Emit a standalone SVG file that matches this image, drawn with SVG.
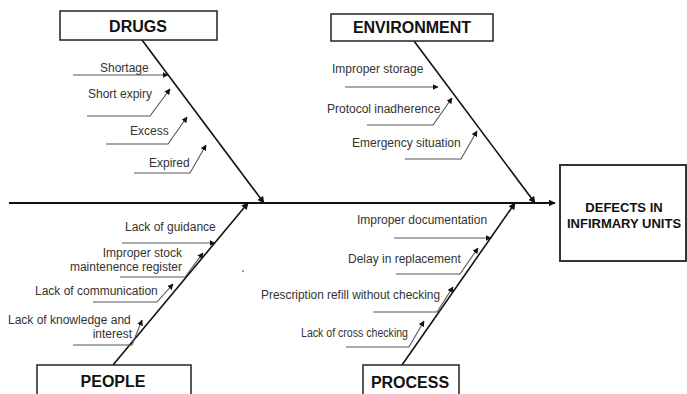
<svg xmlns="http://www.w3.org/2000/svg" width="687" height="394" viewBox="0 0 687 394">
  <defs>
    <marker id="ah" viewBox="0 0 10 10" refX="9" refY="5" markerWidth="7" markerHeight="7" markerUnits="userSpaceOnUse" orient="auto">
      <path d="M0,0 L10,5 L0,10 Z" fill="#111"/>
    </marker>
    <marker id="ahs" viewBox="0 0 10 10" refX="9" refY="5" markerWidth="6" markerHeight="6" markerUnits="userSpaceOnUse" orient="auto">
      <path d="M0,0 L10,5 L0,10 Z" fill="#111"/>
    </marker>
  </defs>
  <style>
    .box { fill: #fff; stroke: #222; stroke-width: 1.5; }
    .cat { font-family: "Liberation Sans", Arial, sans-serif; font-weight: bold; font-size: 16px; fill: #111; text-anchor: middle; }
    .lbl { font-family: "Liberation Sans", Arial, sans-serif; font-size: 12px; fill: #333; }
    .spine { stroke: #111; stroke-width: 2; fill: none; }
    .bone { stroke: #111; stroke-width: 1.6; fill: none; }
    .sub { stroke: #555; stroke-width: 1.1; fill: none; }
    .eff { font-family: "Liberation Sans", Arial, sans-serif; font-weight: bold; font-size: 13px; fill: #111; text-anchor: middle; }
  </style>
  <rect width="687" height="394" fill="#fff"/>

  <g id="connectors">
    <!-- main spine -->
    <line class="spine" x1="9" y1="203" x2="555" y2="203" marker-end="url(#ah)"/>
    <!-- category bones -->
    <line class="bone" x1="142" y1="40" x2="264" y2="203" marker-end="url(#ah)"/>
    <line class="bone" x1="414" y1="41" x2="535" y2="203" marker-end="url(#ah)"/>
    <line class="bone" x1="113" y1="365" x2="248" y2="203" marker-end="url(#ah)"/>
    <line class="bone" x1="402" y1="365" x2="515" y2="203" marker-end="url(#ah)"/>
    <!-- drugs causes -->
    <polyline class="sub" points="73,75 168,75" marker-end="url(#ahs)"/>
    <polyline class="sub" points="87,116 150,116 170,89" marker-end="url(#ahs)"/>
    <polyline class="sub" points="106,144 168,144 187,117" marker-end="url(#ahs)"/>
    <polyline class="sub" points="134,173 190,173 206,145" marker-end="url(#ahs)"/>
    <!-- environment causes -->
    <polyline class="sub" points="345,87 438,87" marker-end="url(#ahs)"/>
    <polyline class="sub" points="367,125 433,125 452,98" marker-end="url(#ahs)"/>
    <polyline class="sub" points="405,159 461,159 477,131" marker-end="url(#ahs)"/>
    <!-- people causes -->
    <polyline class="sub" points="122,243 215,243" marker-end="url(#ahs)"/>
    <polyline class="sub" points="120,277 185,277 203,253" marker-end="url(#ahs)"/>
    <polyline class="sub" points="93,302 157,302 173,284" marker-end="url(#ahs)"/>
    <polyline class="sub" points="73,345 132,345 142,320" marker-end="url(#ahs)"/>
    <!-- process causes -->
    <polyline class="sub" points="394,238 491,238" marker-end="url(#ahs)"/>
    <polyline class="sub" points="396,274 460,274 478,248" marker-end="url(#ahs)"/>
    <polyline class="sub" points="373,312 437,312 453,287" marker-end="url(#ahs)"/>
    <polyline class="sub" points="346,347 409,347 424,321" marker-end="url(#ahs)"/>
  </g>

  <g id="drugs">
    <rect class="box" x="60" y="11" width="157" height="29"/>
    <text class="cat" x="138" y="32">DRUGS</text>
    <text class="lbl" x="100" y="72">Shortage</text>
    <text class="lbl" x="88" y="98">Short expiry</text>
    <text class="lbl" x="130" y="135">Excess</text>
    <text class="lbl" x="149" y="167">Expired</text>
  </g>

  <g id="environment">
    <rect class="box" x="331" y="14" width="162" height="27"/>
    <text class="cat" x="412" y="33">ENVIRONMENT</text>
    <text class="lbl" x="332" y="73">Improper storage</text>
    <text class="lbl" x="327" y="113">Protocol inadherence</text>
    <text class="lbl" x="352" y="147">Emergency situation</text>
  </g>

  <g id="people">
    <rect class="box" x="37" y="365" width="154" height="40"/>
    <text class="cat" x="113" y="387">PEOPLE</text>
    <text class="lbl" x="125" y="231">Lack of guidance</text>
    <text class="lbl" x="182" y="257" text-anchor="end">Improper stock</text>
    <text class="lbl" x="182" y="271" text-anchor="end">maintenence register</text>
    <text class="lbl" x="35" y="295">Lack of communication</text>
    <text class="lbl" x="8" y="324">Lack of knowledge and</text>
    <text class="lbl" x="132" y="338" text-anchor="end">interest</text>
  </g>

  <g id="process">
    <rect class="box" x="363" y="365" width="96" height="40"/>
    <text class="cat" x="410" y="388">PROCESS</text>
    <text class="lbl" x="357" y="224">Improper documentation</text>
    <text class="lbl" x="348" y="263">Delay in replacement</text>
    <text class="lbl" x="261" y="299" textLength="179" lengthAdjust="spacingAndGlyphs">Prescription refill without checking</text>
    <text class="lbl" x="301" y="337" textLength="107" lengthAdjust="spacingAndGlyphs">Lack of cross checking</text>
  </g>

  <g id="effect">
    <rect x="560" y="165" width="126" height="96" fill="#fff" stroke="#333" stroke-width="2"/>
    <text class="eff" x="624" y="212">DEFECTS IN</text>
    <text class="eff" x="624" y="228">INFIRMARY UNITS</text>
  </g>

  <circle cx="243" cy="271" r="0.9" fill="#777"/>
</svg>
